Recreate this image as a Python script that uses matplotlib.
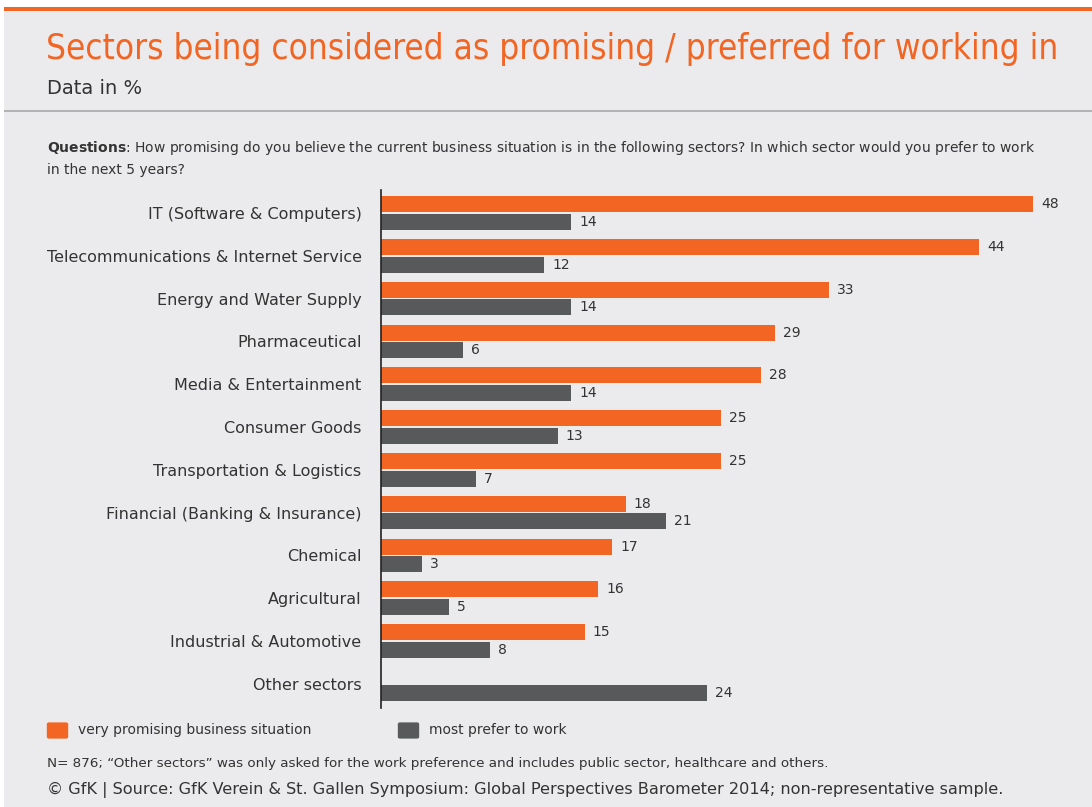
import matplotlib
matplotlib.use("Agg")
import matplotlib.pyplot as plt
from matplotlib.patches import FancyBboxPatch, Rectangle
import numpy as np

sectors = [
    "IT (Software & Computers)",
    "Telecommunications & Internet Service",
    "Energy and Water Supply",
    "Pharmaceutical",
    "Media & Entertainment",
    "Consumer Goods",
    "Transportation & Logistics",
    "Financial (Banking & Insurance)",
    "Chemical",
    "Agricultural",
    "Industrial & Automotive",
    "Other sectors",
]
promising = [48, 44, 33, 29, 28, 25, 25, 18, 17, 16, 15, None]
prefer = [14, 12, 14, 6, 14, 13, 7, 21, 3, 5, 8, 24]

ORANGE = "#f26522"
DARK = "#58595b"
BG = "#ebebed"
TEXT = "#333333"

W, H = 1092, 807
fig = plt.figure(figsize=(W / 100, H / 100), dpi=100)
fig.patch.set_facecolor(BG)

def fx(px):
    return px / W

def fy(py):
    return 1 - py / H

# frame: white margins, orange top rule, grey separator under header
fig.add_artist(Rectangle((0, 0), fx(4), 1, transform=fig.transFigure,
                         color="white", lw=0, zorder=0))
fig.add_artist(Rectangle((0, fy(7)), 1, 7 / H, transform=fig.transFigure,
                         color="white", lw=0, zorder=0))
fig.add_artist(Rectangle((fx(4), fy(11)), 1, 4 / H, transform=fig.transFigure,
                         color=ORANGE, lw=0, zorder=1))
fig.add_artist(Rectangle((fx(4), fy(112)), 1, 2 / H, transform=fig.transFigure,
                         color="#b3b3b3", lw=0, zorder=1))

title = fig.text(fx(46), fy(49), "Sectors being considered as promising / preferred for working in",
                 color=ORANGE, fontsize=26, family="DejaVu Sans", stretch="condensed",
                 va="center", ha="left")
# shrink the title so it spans the header width
renderer = fig.canvas.get_renderer()
tw = title.get_window_extent(renderer).width
title.set_fontsize(26 * 1013 / tw)

fig.text(fx(47), fy(89), "Data in %", color=TEXT, fontsize=14, va="center")

fig.text(fx(47), fy(148), r"$\bf{Questions}$: How promising do you believe the current business "
         "situation is in the following sectors? In which sector would you prefer to work",
         color=TEXT, fontsize=10, va="center")
fig.text(fx(47), fy(170), "in the next 5 years?", color=TEXT, fontsize=10, va="center")

# chart area
ax_left, ax_right, ax_top, ax_bot = 381, 1080, 190, 708
ax = fig.add_axes([fx(ax_left), fy(ax_bot), (ax_right - ax_left) / W, (ax_bot - ax_top) / H])
ax.set_facecolor(BG)
px_per_unit = 652 / 48
row_px = 42.8
ax.set_xlim(0, (ax_right - ax_left) / px_per_unit)
ax.set_ylim((ax_bot - 213) / row_px, -(213 - ax_top) / row_px)

y = np.arange(len(sectors))
bh = 16 / row_px
off = 8.8 / row_px
for i in range(len(sectors)):
    if promising[i] is not None:
        ax.barh(y[i] - off, promising[i], height=bh, color=ORANGE, lw=0)
        ax.text(promising[i] + 0.6, y[i] - off, str(promising[i]), va="center",
                ha="left", fontsize=10, color=TEXT)
    ax.barh(y[i] + off, prefer[i], height=bh, color=DARK, lw=0)
    ax.text(prefer[i] + 0.6, y[i] + off, str(prefer[i]), va="center",
            ha="left", fontsize=10, color=TEXT)

for s in ["top", "right", "bottom"]:
    ax.spines[s].set_visible(False)
ax.spines["left"].set_color("#222222")
ax.spines["left"].set_linewidth(1.2)
ax.set_xticks([])
ax.set_yticks(y)
ax.set_yticklabels(sectors, fontsize=11.5, color=TEXT)
ax.tick_params(axis="y", length=0, pad=14)

# legend
for x0, label, col in [(47, "very promising business situation", ORANGE),
                       (398, "most prefer to work", DARK)]:
    fig.add_artist(FancyBboxPatch((fx(x0 + 2), fy(737)), 17 / W, 13 / H,
                                  boxstyle="round,pad=0.002", transform=fig.transFigure,
                                  color=col, lw=0))
    fig.text(fx(x0 + 31), fy(730), label, fontsize=10, color=TEXT, va="center")

fig.text(fx(47), fy(764), "N= 876; \u201cOther sectors\u201d was only asked for the work preference "
         "and includes public sector, healthcare and others.",
         fontsize=9.7, color=TEXT, va="center")
fig.text(fx(47), fy(790), "\u00a9 GfK | Source: GfK Verein & St. Gallen Symposium: Global "
         "Perspectives Barometer 2014; non-representative sample.",
         fontsize=11.6, color=TEXT, va="center")

fig.savefig("out.png", dpi=100, facecolor=BG)
